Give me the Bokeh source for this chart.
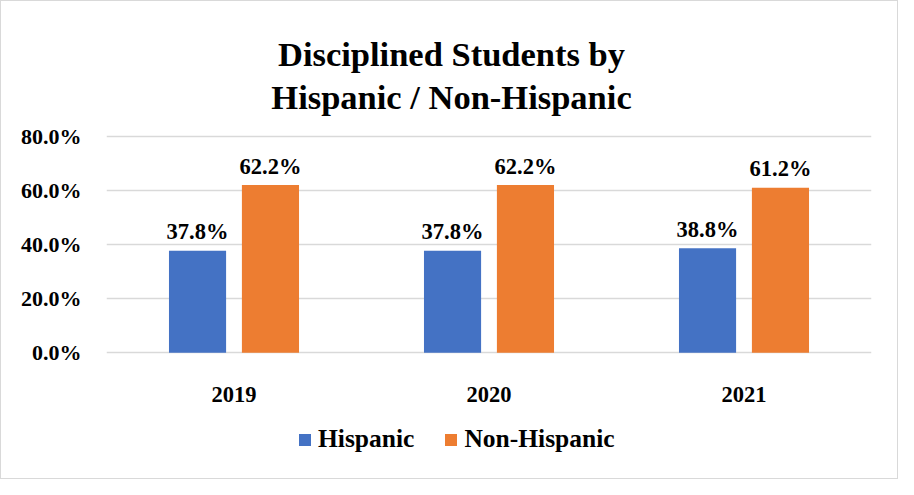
from bokeh.plotting import figure
from bokeh.models import (ColumnDataSource, FactorRange, Range1d, NumeralTickFormatter,
                          FixedTicker, Legend, LegendItem, Label)
from bokeh.transform import dodge
from bokeh.embed import file_html
from bokeh.resources import INLINE
from bokeh.core.properties import value

# ---- data ----
years = ["2019", "2020", "2021"]
hispanic = [0.378, 0.378, 0.388]
non_hispanic = [0.622, 0.622, 0.612]
series_names = ["Hispanic", "Non-Hispanic"]
y_ticks = [0.0, 0.2, 0.4, 0.6, 0.8]
title_lines = ["Disciplined Students by", "Hispanic / Non-Hispanic"]

FONT = "Liberation Serif"
BLUE = "#4472C4"
ORANGE = "#ED7D31"
GRID = "#D9D9D9"

src = ColumnDataSource(dict(
    year=years, h=hispanic, n=non_hispanic, base=[0.0] * len(years),
    h_lab=[f"{v * 100:.1f}%" for v in hispanic],
    n_lab=[f"{v * 100:.1f}%" for v in non_hispanic],
))

# frame spans the full height; the value axis shows only 0%..80%
p = figure(x_range=FactorRange(*years), y_range=Range1d(-0.4734, 1.3023),
           width=898, height=479, output_backend="svg", toolbar_location=None,
           x_axis_location=None,
           min_border_left=105, min_border_right=28, min_border_top=0,
           min_border_bottom=0)

OFF = 0.143
W = 0.224
r_h = p.vbar(x=dodge("year", -OFF, range=p.x_range), top="h", width=W, source=src,
             fill_color=BLUE, line_color=None)
r_n = p.vbar(x=dodge("year", OFF, range=p.x_range), top="n", width=W, source=src,
             fill_color=ORANGE, line_color=None)

# value labels
for col, lab, off in (("h", "h_lab", -OFF), ("n", "n_lab", OFF)):
    p.text(x=dodge("year", off, range=p.x_range), y=col, text=lab, source=src,
           text_align="center", text_baseline="alphabetic", y_offset=-19,
           text_font=value(FONT), text_font_style="bold", text_font_size="22.5px",
           text_color="#000000")

# category labels under the baseline
p.text(x="year", y="base", text="year", source=src, text_align="center",
       text_baseline="alphabetic", y_offset=41.6, text_font=value(FONT),
       text_font_style="bold", text_font_size="22.5px", text_color="#000000")

# title (two centred lines)
for txt, ybase in zip(title_lines, (426.5, 383.2)):
    p.add_layout(Label(x=345, y=ybase, x_units="screen", y_units="screen", text=txt,
                       text_align="center", text_baseline="alphabetic",
                       text_font=FONT, text_font_style="bold", text_font_size="34.5px",
                       text_color="#000000"))

p.outline_line_color = None
p.xgrid.grid_line_color = None
p.ygrid.grid_line_color = GRID
p.ygrid.grid_line_width = 1.3

p.yaxis.ticker = FixedTicker(ticks=y_ticks)
p.yaxis.formatter = NumeralTickFormatter(format="0.0%")
p.yaxis.axis_line_color = None
p.yaxis.major_tick_line_color = None
p.yaxis.minor_tick_line_color = None
p.yaxis.major_tick_out = 0
p.yaxis.major_tick_in = 0
p.yaxis.major_label_standoff = 25
p.yaxis.major_label_text_font = FONT
p.yaxis.major_label_text_font_style = "bold"
p.yaxis.major_label_text_font_size = "22px"
p.yaxis.major_label_text_color = "#000000"

legend = Legend(items=[LegendItem(label=series_names[0], renderers=[r_h]),
                       LegendItem(label=series_names[1], renderers=[r_n])],
                location=(191, 26), orientation="horizontal",
                glyph_width=15, glyph_height=15, label_standoff=6, spacing=29,
                padding=0, margin=0, border_line_color=None, background_fill_alpha=0,
                label_text_font=FONT, label_text_font_style="bold",
                label_text_font_size="25.5px", label_text_color="#000000")
p.add_layout(legend)

p.styles = {"border": "1px solid #D9D9D9", "box-sizing": "border-box"}

open("out.html", "w").write(file_html(p, INLINE))
